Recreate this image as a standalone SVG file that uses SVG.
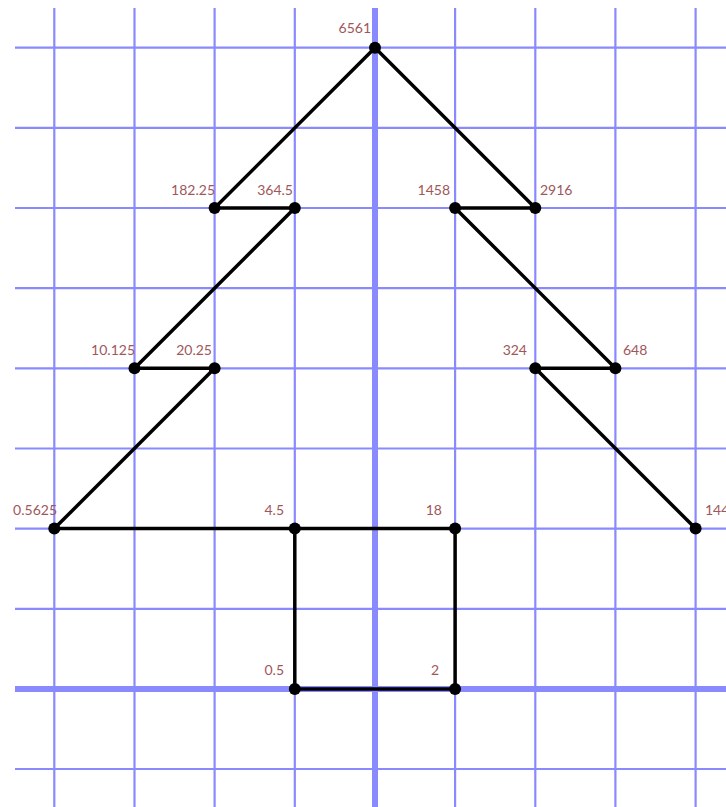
<svg xmlns="http://www.w3.org/2000/svg" width="726" height="807" viewBox="0 0 726 807">
<style>
.g{stroke:#8a8aff;stroke-width:2.2;fill:none}
.ax{stroke:#8a8aff;stroke-width:6;fill:none}
.e{stroke:#000;stroke-width:3.5;fill:none;stroke-linecap:round}
.d{fill:#000}
.t{font-family:Lato,"Open Sans",sans-serif;font-size:14px;fill:#a0575a}
</style>
<rect width="726" height="807" fill="#fff"/>
<g id="grid">
<path class="g" d="M54.3 8V807M134.5 8V807M214.6 8V807M294.8 8V807M455.1 8V807M535.3 8V807M615.4 8V807M695.6 8V807"/>
<path class="g" d="M15 47.7H726M15 127.9H726M15 208H726M15 288.2H726M15 368.3H726M15 448.5H726M15 528.6H726M15 608.8H726M15 769H726"/>
<path class="ax" d="M375 8V807M15 688.9H726"/>
</g>
<g id="connectors">
<line class="e" x1="375" y1="47.7" x2="214.6" y2="208"/>
<line class="e" x1="375" y1="47.7" x2="535.3" y2="208"/>
<line class="e" x1="214.6" y1="208" x2="294.8" y2="208"/>
<line class="e" x1="294.8" y1="208" x2="134.5" y2="368.3"/>
<line class="e" x1="134.5" y1="368.3" x2="214.6" y2="368.3"/>
<line class="e" x1="214.6" y1="368.3" x2="54.3" y2="528.6"/>
<line class="e" x1="54.3" y1="528.6" x2="294.8" y2="528.6"/>
<line class="e" x1="294.8" y1="528.6" x2="455.1" y2="528.6"/>
<line class="e" x1="294.8" y1="528.6" x2="294.8" y2="688.9"/>
<line class="e" x1="294.8" y1="688.9" x2="455.1" y2="688.9"/>
<line class="e" x1="455.1" y1="688.9" x2="455.1" y2="528.6"/>
<line class="e" x1="455.1" y1="208" x2="535.3" y2="208"/>
<line class="e" x1="455.1" y1="208" x2="615.4" y2="368.3"/>
<line class="e" x1="615.4" y1="368.3" x2="535.3" y2="368.3"/>
<line class="e" x1="535.3" y1="368.3" x2="695.6" y2="528.6"/>
</g>
<g id="n6561"><circle class="d" cx="375" cy="47.7" r="6"/><text class="t" x="371" y="33" text-anchor="end">6561</text></g>
<g id="n182_25"><circle class="d" cx="214.6" cy="208" r="6"/><text class="t" x="215" y="195" text-anchor="end">182.25</text></g>
<g id="n364_5"><circle class="d" cx="294.8" cy="208" r="6"/><text class="t" x="293" y="195" text-anchor="end">364.5</text></g>
<g id="n1458"><circle class="d" cx="455.1" cy="208" r="6"/><text class="t" x="450" y="195" text-anchor="end">1458</text></g>
<g id="n2916"><circle class="d" cx="535.3" cy="208" r="6"/><text class="t" x="540" y="195">2916</text></g>
<g id="n10_125"><circle class="d" cx="134.5" cy="368.3" r="6"/><text class="t" x="135" y="355" text-anchor="end">10.125</text></g>
<g id="n20_25"><circle class="d" cx="214.6" cy="368.3" r="6"/><text class="t" x="212" y="355" text-anchor="end">20.25</text></g>
<g id="n324"><circle class="d" cx="535.3" cy="368.3" r="6"/><text class="t" x="527" y="355" text-anchor="end">324</text></g>
<g id="n648"><circle class="d" cx="615.4" cy="368.3" r="6"/><text class="t" x="623" y="355">648</text></g>
<g id="n0_5625"><circle class="d" cx="54.3" cy="528.6" r="6"/><text class="t" x="57" y="515" text-anchor="end">0.5625</text></g>
<g id="n4_5"><circle class="d" cx="294.8" cy="528.6" r="6"/><text class="t" x="284" y="515" text-anchor="end">4.5</text></g>
<g id="n18"><circle class="d" cx="455.1" cy="528.6" r="6"/><text class="t" x="442" y="515" text-anchor="end">18</text></g>
<g id="n144"><circle class="d" cx="695.6" cy="528.6" r="6"/><text class="t" x="705" y="515">144</text></g>
<g id="n0_5"><circle class="d" cx="294.8" cy="688.9" r="6"/><text class="t" x="284" y="675" text-anchor="end">0.5</text></g>
<g id="n2"><circle class="d" cx="455.1" cy="688.9" r="6"/><text class="t" x="439" y="675" text-anchor="end">2</text></g>
</svg>
